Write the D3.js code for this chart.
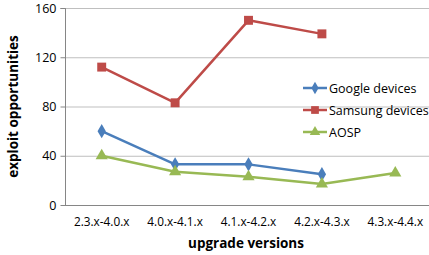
<!DOCTYPE html>
<html><head><meta charset="utf-8">
<script src="https://cdn.jsdelivr.net/npm/d3@7"></script>
<style>body{margin:0;background:#fff}svg{display:block}text{font-family:"Open Sans",sans-serif}</style>
</head><body><svg id="c" width="429" height="255"></svg>
<script>
const categories = ["2.3.x-4.0.x","4.0.x-4.1.x","4.1.x-4.2.x","4.2.x-4.3.x","4.3.x-4.4.x"];
const google = [60, 33, 33, 25, null];
const samsung = [112, 83, 150, 139, null];
const aosp = [40, 27, 23, 17, 26];
const yTicks = [0, 40, 80, 120, 160];
const seriesNames = ["Google devices","Samsung devices","AOSP"];

const svg = d3.select("#c");
const m = {l:65, r:-3, t:8, b:50};
const W = 429, H = 255;
const x = d3.scaleBand().domain(categories).range([m.l, W - m.r]);
const y = d3.scaleLinear().domain([0,160]).range([H - m.b, m.t]);

svg.append("g").selectAll("line").data(yTicks.filter(d=>d>0)).join("line")
  .attr("x1", m.l).attr("x2", W).attr("y1", d=>y(d)+0.5).attr("y2", d=>y(d)+0.5)
  .attr("stroke", "#bfbfbf").attr("stroke-width", 1);
const yAx = svg.append("g").attr("transform", `translate(${m.l+0.5},0)`)
  .call(d3.axisLeft(y).tickValues(yTicks).tickSize(5).tickPadding(4));
yAx.select(".domain").attr("stroke", "#868686").attr("d", `M-5,${y(160)+0.5}H0V${y(0)+0.5}`);
yAx.selectAll(".tick line").attr("stroke", "#868686");
yAx.selectAll("text").attr("font-size", 12.5).attr("fill", "#000");
const xAx = svg.append("g").attr("transform", `translate(0,${y(0)+0.5})`)
  .call(d3.axisBottom(x).tickSize(0).tickPadding(12));
xAx.select(".domain").attr("stroke", "#868686").attr("d", `M${m.l},0H${W}`);
xAx.selectAll("text").attr("font-size", 11.8).attr("fill", "#000");

svg.append("text").attr("transform", `translate(18,${(y(0)+y(160))/2}) rotate(-90)`)
  .attr("text-anchor","middle").attr("font-size",13.5).attr("font-weight","bold").text("exploit opportunities");
svg.append("text").attr("x", 246).attr("y", 248)
  .attr("text-anchor","middle").attr("font-size",13.5).attr("font-weight","bold").text("upgrade versions");

const colors = ["#4A7EBB","#BE4B48","#98B954"];
const data = [google, samsung, aosp];
const cx = c => x(c) + x.bandwidth()/2;
const shapes = [d3.symbolDiamond, d3.symbolSquare, d3.symbolTriangle];
const sizes = [60, 80, 64];
const line = d3.line().defined(d=>d.v!=null).x(d=>cx(d.c)).y(d=>y(d.v));
data.forEach((vals,i)=>{
  const pts = categories.map((c,j)=>({c, v: vals[j]}));
  svg.append("path").datum(pts).attr("d", line).attr("fill","none")
    .attr("stroke", colors[i]).attr("stroke-width", 2.5).attr("stroke-linejoin","round");
  svg.append("g").selectAll("path").data(pts.filter(d=>d.v!=null)).join("path")
    .attr("d", d3.symbol(shapes[i], sizes[i]))
    .attr("transform", d=>`translate(${cx(d.c)},${y(d.v)})`).attr("fill", colors[i]);
});

const lg = svg.append("g");
seriesNames.forEach((n,i)=>{
  const yy = 88 + i*22;
  lg.append("line").attr("x1",303).attr("x2",327).attr("y1",yy).attr("y2",yy)
    .attr("stroke",colors[i]).attr("stroke-width",2.5);
  lg.append("path").attr("d", d3.symbol(shapes[i], sizes[i]*0.75)).attr("transform",`translate(315,${yy})`).attr("fill",colors[i]);
  lg.append("text").attr("x",329).attr("y",yy+4.5).attr("font-size",12.5).text(n);
});
</script></body></html>
